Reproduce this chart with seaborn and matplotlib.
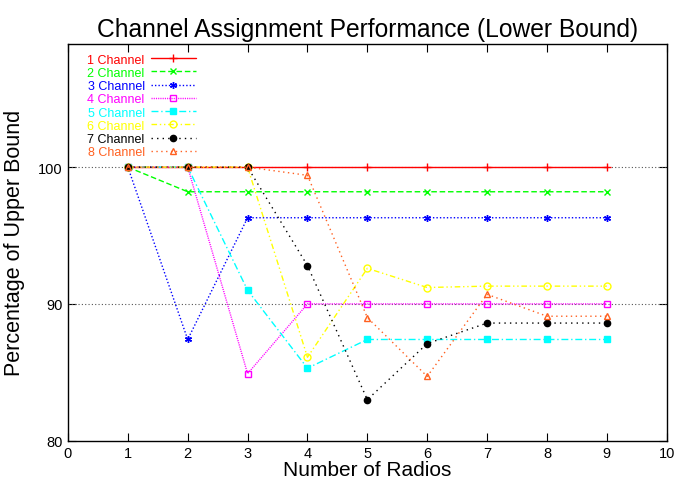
import matplotlib
matplotlib.use("Agg")
import matplotlib.pyplot as plt
import seaborn as sns
import pandas as pd

radios = [1, 2, 3, 4, 5, 6, 7, 8, 9]
ch1 = [100.0, 100.0, 100.0, 100.0, 100.0, 100.0, 100.0, 100.0, 100.0]
ch2 = [100.0, 98.2, 98.2, 98.2, 98.2, 98.2, 98.2, 98.2, 98.2]
ch3 = [100.0, 87.4, 96.3, 96.3, 96.3, 96.3, 96.3, 96.3, 96.3]
ch4 = [100.0, 100.0, 84.9, 90.0, 90.0, 90.0, 90.0, 90.0, 90.0]
ch5 = [100.0, 100.0, 91.0, 85.3, 87.4, 87.4, 87.4, 87.4, 87.4]
ch6 = [100.0, 100.0, 100.0, 86.1, 92.6, 91.2, 91.3, 91.3, 91.3]
ch7 = [100.0, 100.0, 100.0, 92.8, 83.0, 87.1, 88.6, 88.6, 88.6]
ch8 = [100.0, 100.0, 100.0, 99.4, 89.0, 84.7, 90.7, 89.1, 89.1]
labels = ["1 Channel", "2 Channel", "3 Channel", "4 Channel",
          "5 Channel", "6 Channel", "7 Channel", "8 Channel"]
series = [ch1, ch2, ch3, ch4, ch5, ch6, ch7, ch8]

colors = ["#ff0000", "#00ff00", "#0000ff", "#ff00ff",
          "#00ffff", "#ffff00", "#000000", "#ff6020"]
styles = ["-", (0, (4, 2)), (0, (1, 1.5)), (0, (0.8, 0.8)),
          (0, (5, 2, 1, 2)), (0, (4, 2, 1, 2, 1, 2)), (0, (1, 3)), (0, (1, 2.5))]
markers = ["+", "x", (6, 2, 0), "s", "s", "o", "o", "^"]
filled = [True, True, True, False, True, False, True, False]
msizes = [6, 5, 5, 5, 5, 5, 4.5, 5]

sns.set_style("ticks")
plt.rcParams["font.family"] = ["Liberation Sans", "DejaVu Sans"]
plt.rcParams["text.color"] = "black"
plt.rcParams["axes.labelcolor"] = "black"
plt.rcParams["xtick.color"] = "black"
plt.rcParams["ytick.color"] = "black"

fig = plt.figure(figsize=(6.79, 4.81), dpi=100)
ax = fig.add_axes([0.1001, 0.0817, 0.8818, 0.8247])

for i in range(8):
    df = pd.DataFrame({"x": radios, "y": series[i]})
    sns.lineplot(data=df, x="x", y="y", ax=ax, color=colors[i],
                 linestyle=styles[i], linewidth=1.0, marker=markers[i],
                 markersize=msizes[i], markeredgewidth=1.0,
                 markerfacecolor=colors[i] if filled[i] else "none",
                 markeredgecolor=colors[i], label=labels[i], zorder=3 + i)

ax.set_xlim(0, 10)
ax.set_ylim(80, 109)
ax.set_xticks(range(0, 11))
ax.set_yticks([80, 90, 100])
for yv in [90, 100]:
    ax.axhline(yv, color="#555555", linestyle=(0, (1, 2)), linewidth=0.8, zorder=1)

ax.tick_params(direction="in", length=6, width=0.8, top=True, right=True,
               labelsize=10.5, pad=4, colors="black")
for sp in ax.spines.values():
    sp.set_linewidth(1.0)
    sp.set_color("black")
    sp.set_visible(True)

ax.set_title("Channel Assignment Performance (Lower Bound)", fontsize=17.7, pad=6,
             color="black")
ax.set_xlabel("Number of Radios", fontsize=15, labelpad=0, color="black")
ax.set_ylabel("Percentage of Upper Bound", fontsize=15.5, labelpad=9, color="black")

leg = ax.legend(loc="upper left", bbox_to_anchor=(0.02, 0.995), frameon=False,
                markerfirst=False, fontsize=9, handlelength=3.6,
                labelspacing=0.1, handletextpad=0.5, labelcolor="linecolor",
                borderaxespad=0.2)

fig.savefig("out.png", dpi=100)
